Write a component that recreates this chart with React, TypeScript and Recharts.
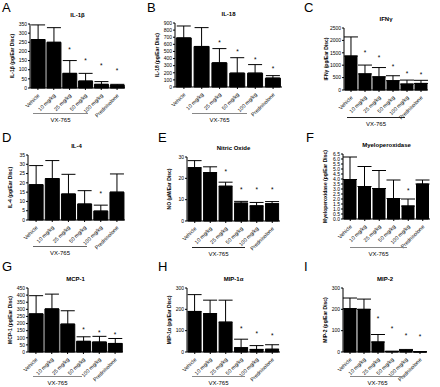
import { ComposedChart, Bar, ErrorBar, Line, XAxis, YAxis } from 'recharts';

const categories = ['Vehicle', '10 mg/kg', '25 mg/kg', '50 mg/kg', '100 mg/kg', 'Prednisolone'];

// A  IL-1β
const il1bMean = [265, 250, 80, 38, 20, 15];
const il1bUpper = [345, 330, 150, 80, 35, 20];
const il1bStar = [null, null, 215, 152, 128, 98];
const il1bTicks = [0, 50, 100, 150, 200, 250, 300, 350];

// B  IL-18
const il18Mean = [690, 570, 340, 195, 195, 125];
const il18Upper = [858, 835, 540, 412, 315, 160];
const il18Star = [null, null, 630, 500, 395, 265];
const il18Ticks = [0, 100, 200, 300, 400, 500, 600, 700, 800, 900];

// C  IFNγ
const ifngMean = [1370, 650, 530, 375, 240, 265];
const ifngUpper = [2140, 1005, 905, 575, 400, 390];
const ifngStar = [null, 1550, 1350, 970, 700, 650];
const ifngTicks = [0, 500, 1000, 1500, 2000, 2500];

// D  IL-4
const il4Mean = [19, 22.3, 14, 8.6, 4.8, 15];
const il4Upper = [29.3, 32, 24.6, 15.8, 8, 24.8];
const il4Star = [null, null, null, null, 14.8, null];
const il4Ticks = [0, 5, 10, 15, 20, 25, 30, 35];

// E  Nitric oxide
const noMean = [25, 22.7, 16.3, 8.4, 7.1, 8.1];
const noUpper = [28.3, 25.4, 18.2, 9.2, 8.7, 9.1];
const noStar = [null, null, 23.5, 14.8, 14.8, 14.8];
const noTicks = [0, 10, 20, 30];

// F  Myeloperoxidase
const mpoMean = [3.95, 3.25, 3.05, 2.05, 1.3, 3.5];
const mpoUpper = [6.2, 5.25, 4.85, 3.9, 2.0, 3.9];
const mpoStar = [null, null, null, null, 2.95, null];
const mpoTicks = [0, 0.5, 1, 1.5, 2, 2.5, 3, 3.5, 4, 4.5, 5, 5.5, 6, 6.5];

// G  MCP-1
const mcp1Mean = [268, 303, 196, 75, 70, 60];
const mcp1Upper = [396, 407, 290, 107, 110, 95];
const mcp1Star = [null, null, null, 165, 140, 125];
const mcp1Ticks = [0, 50, 100, 150, 200, 250, 300, 350, 400, 450];

// H  MIP-1α
const mip1aMean = [190, 180, 140, 20, 12, 13];
const mip1aUpper = [269, 243, 243, 60, 30, 34];
const mip1aStar = [null, null, null, 112, 89, 81];
const mip1aTicks = [0, 100, 200, 300];

// I  MIP-2
const mip2Mean = [203, 200, 47, 3, 7, 1];
const mip2Upper = [253, 248, 82, 3, 12, 1];
const mip2Star = [null, null, 158, 114, 82, 76];
const mip2Ticks = [0, 100, 200, 300];

const FONT = '"Liberation Sans", Arial, Helvetica, sans-serif';
const YW = 24;
const TOP = 4;
const RIGHT = 2;
const XH = 42;

type Panel = {
  letter: string;
  title: string;
  yLabel: string;
  mean: number[];
  upper: number[];
  star: (number | null)[];
  ticks: number[];
  decimals?: number;
  // layout: plot box [x, y, w, h], letter [x, y], bracket [x1, x2, y], bracket colour
  box: number[];
  letterAt: number[];
  bracket: number[];
  bracketColor: string;
};

const panels: Panel[] = [
  { letter: 'A', title: 'IL-1β', yLabel: 'IL-1β (pg/Ear Disc)', mean: il1bMean, upper: il1bUpper, star: il1bStar, ticks: il1bTicks,
    box: [30, 24, 95, 64], letterAt: [2, 1], bracket: [33, 88, 113], bracketColor: '#888' },
  { letter: 'B', title: 'IL-18', yLabel: 'IL-18 (pg/Ear Disc)', mean: il18Mean, upper: il18Upper, star: il18Star, ticks: il18Ticks,
    box: [175, 23, 107, 64], letterAt: [147, 1], bracket: [192, 247, 113], bracketColor: '#888' },
  { letter: 'C', title: 'IFNγ', yLabel: 'IFNγ (pg/Ear Disc)', mean: ifngMean, upper: ifngUpper, star: ifngStar, ticks: ifngTicks,
    box: [344, 28, 84, 62], letterAt: [304, 1], bracket: [347, 405, 117], bracketColor: '#222' },
  { letter: 'D', title: 'IL-4', yLabel: 'IL-4 (pg/Ear Disc)', mean: il4Mean, upper: il4Upper, star: il4Star, ticks: il4Ticks,
    box: [28, 155, 97, 65], letterAt: [2, 131], bracket: [33, 87, 246], bracketColor: '#666' },
  { letter: 'E', title: 'Nitric Oxide', yLabel: 'NO (μM/Ear Disc)', mean: noMean, upper: noUpper, star: noStar, ticks: noTicks,
    box: [187, 157, 93, 64], letterAt: [158, 131], bracket: [192, 245, 247], bracketColor: '#222' },
  { letter: 'F', title: 'Myeloperoxidase', yLabel: 'Myeloperoxidase (pg/Ear Disc)', mean: mpoMean, upper: mpoUpper, star: mpoStar, ticks: mpoTicks, decimals: 1,
    box: [343, 154, 87, 65], letterAt: [306, 131], bracket: [350, 407, 247], bracketColor: '#888' },
  { letter: 'G', title: 'MCP-1', yLabel: 'MCP-1 (pg/Ear Disc)', mean: mcp1Mean, upper: mcp1Upper, star: mcp1Star, ticks: mcp1Ticks,
    box: [28, 288, 95, 64], letterAt: [2, 260], bracket: [33, 82, 376], bracketColor: '#888' },
  { letter: 'H', title: 'MIP-1α', yLabel: 'MIP-1α (pg/Ear Disc)', mean: mip1aMean, upper: mip1aUpper, star: mip1aStar, ticks: mip1aTicks,
    box: [187, 288, 93, 64], letterAt: [158, 260], bracket: [192, 245, 376], bracketColor: '#888' },
  { letter: 'I', title: 'MIP-2', yLabel: 'MIP-2 (pg/Ear Disc)', mean: mip2Mean, upper: mip2Upper, star: mip2Star, ticks: mip2Ticks,
    box: [343, 288, 84, 64], letterAt: [304, 260], bracket: [350, 405, 376], bracketColor: '#888' },
];

function CatTick(props: any) {
  const { x, y, payload } = props;
  const tx = x + 2;
  const ty = y + 4;
  return (
    <text x={tx} y={ty} transform={`rotate(-45 ${tx} ${ty})`} textAnchor="end" fontSize={5.3} fontFamily={FONT} fill="#000">
      {payload.value}
    </text>
  );
}

function StarDot(props: any) {
  const { cx, cy, value, index } = props;
  if (value == null || cy == null || isNaN(cy)) return <g key={`s-${index}`} />;
  return (
    <text key={`s-${index}`} x={cx} y={cy + 3} textAnchor="middle" fontSize={6.5} fontFamily={FONT} fill="#000">
      *
    </text>
  );
}

function PanelChart({ p }: { p: Panel }) {
  const [x0, y0, w, h] = p.box;
  const rows = categories.map((name, i) => ({
    name,
    mean: p.mean[i],
    err: [0, p.upper[i] - p.mean[i]],
    star: p.star[i],
  }));
  const domain = [0, p.ticks[p.ticks.length - 1]];
  const fmt = (v: number) => (p.decimals ? v.toFixed(p.decimals) : String(v));

  return (
    <>
      <div style={{ position: 'absolute', left: p.letterAt[0], top: p.letterAt[1], fontSize: 13, lineHeight: '13px' }}>
        {p.letter}
      </div>
      <div style={{ position: 'absolute', left: x0, top: y0 - 13, width: w, textAlign: 'center', fontSize: 6, fontWeight: 'bold', lineHeight: '8px' }}>
        {p.title}
      </div>
      <div style={{ position: 'absolute', left: x0 - YW, top: y0 - TOP }}>
        <ComposedChart
          width={YW + w + RIGHT}
          height={TOP + h + XH}
          data={rows}
          margin={{ top: TOP, right: RIGHT, left: 0, bottom: 0 }}
          barCategoryGap="7%"
        >
          <XAxis
            dataKey="name"
            interval={0}
            height={XH}
            tick={<CatTick />}
            tickSize={2}
            tickLine={{ stroke: '#000' }}
            axisLine={{ stroke: '#000' }}
          />
          <XAxis xAxisId="top" orientation="top" dataKey="name" height={0} tick={false} tickLine={false} axisLine={{ stroke: '#999' }} />
          <YAxis
            width={YW}
            domain={domain}
            ticks={p.ticks}
            interval={0}
            tickFormatter={fmt}
            tickSize={2}
            tickMargin={1}
            tick={{ fontSize: 5, fill: '#000', fontFamily: FONT }}
            tickLine={{ stroke: '#000' }}
            axisLine={{ stroke: '#000' }}
            label={{
              value: p.yLabel,
              angle: -90,
              position: 'insideLeft',
              offset: 6,
              style: { textAnchor: 'middle', fontSize: 5, fontWeight: 'bold', fill: '#000', fontFamily: FONT },
            }}
          />
          <YAxis yAxisId="r" orientation="right" width={0} domain={domain} tick={false} tickLine={false} axisLine={{ stroke: '#999' }} />
          <Bar dataKey="mean" fill="#000" stroke="#000" isAnimationActive={false}>
            <ErrorBar dataKey="err" width={7} stroke="#000" strokeWidth={1} direction="y" />
          </Bar>
          <Line dataKey="star" stroke="none" dot={StarDot} activeDot={false} legendType="none" isAnimationActive={false} />
        </ComposedChart>
      </div>
      <div
        style={{
          position: 'absolute',
          left: p.bracket[0],
          top: p.bracket[2],
          width: p.bracket[1] - p.bracket[0],
          height: 0,
          borderTop: `1px solid ${p.bracketColor}`,
        }}
      />
      <div
        style={{
          position: 'absolute',
          left: p.bracket[0],
          top: p.bracket[2] + 3,
          width: p.bracket[1] - p.bracket[0],
          textAlign: 'center',
          fontSize: 6,
          lineHeight: '8px',
        }}
      >
        VX-765
      </div>
    </>
  );
}

export default function App() {
  return (
    <div style={{ position: 'absolute', left: 0, top: 0, width: 440, height: 387, background: '#fff', fontFamily: FONT, color: '#000', overflow: 'hidden' }}>
      {panels.map((p) => (
        <PanelChart key={p.letter} p={p} />
      ))}
    </div>
  );
}
